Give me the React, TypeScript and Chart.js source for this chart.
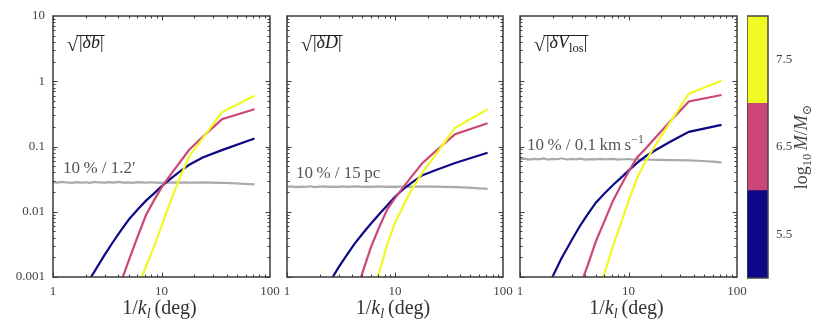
import React, { useEffect, useRef } from 'react';
import { Chart, registerables } from 'chart.js';
Chart.register(...registerables);

// ---------- data ----------
const MAIN_X = [1.8, 2.0, 2.4, 3.0, 3.6, 4.2, 5.0, 6.0, 7.2, 8.5, 10, 12, 14.4, 18, 24, 36, 72];
const GREY_X = [1, 1.1, 1.2, 1.35, 1.5, 1.65, 1.8, 2, 2.2, 2.4, 2.7, 3, 3.3, 3.6, 4, 4.5, 5, 5.5, 6, 6.6, 7.2, 8, 9, 10, 11, 12, 13.5, 15, 16.5, 18, 20, 24, 28, 36, 48, 60, 72];

const DB_NAVY = [0.00054, 0.00074, 0.0012, 0.0022, 0.0035, 0.0051, 0.0076, 0.0107, 0.0148, 0.019, 0.0245, 0.0316, 0.040, 0.0525, 0.068, 0.088, 0.133];
const DB_PINK = [null, null, null, null, null, 0.00081, 0.0018, 0.0041, 0.0089, 0.0148, 0.0234, 0.036, 0.054, 0.089, 0.141, 0.261, 0.372];
const DB_YELLOW = [null, null, null, null, null, null, null, 0.00069, 0.00145, 0.0029, 0.006, 0.0138, 0.030, 0.071, 0.134, 0.334, 0.60];
const DB_GREY = [0.0284, 0.0279, 0.0286, 0.0281, 0.0277, 0.0285, 0.0280, 0.0283, 0.0278, 0.0287, 0.0281, 0.0279, 0.0284, 0.0280, 0.0286, 0.0279, 0.0282, 0.0278, 0.0284, 0.0281, 0.0279, 0.0283, 0.0280, 0.0278, 0.0281, 0.0279, 0.0282, 0.0280, 0.0281, 0.0280, 0.0279, 0.0281, 0.0280, 0.0278, 0.0272, 0.0266, 0.0262];

const DD_NAVY = [null, null, 0.00076, 0.0014, 0.0022, 0.0032, 0.0046, 0.0066, 0.0093, 0.0126, 0.017, 0.0224, 0.0282, 0.0363, 0.0437, 0.056, 0.080];
const DD_PINK = [null, null, null, null, null, 0.00047, 0.00117, 0.0029, 0.006, 0.011, 0.0162, 0.024, 0.0355, 0.056, 0.086, 0.154, 0.227];
const DD_YELLOW = [null, null, null, null, null, null, null, 0.00045, 0.00123, 0.0032, 0.0068, 0.0126, 0.0224, 0.040, 0.076, 0.194, 0.372];
const DD_GREY = [0.0240, 0.0244, 0.0238, 0.0243, 0.0241, 0.0246, 0.0239, 0.0242, 0.0245, 0.0240, 0.0243, 0.0241, 0.0244, 0.0240, 0.0242, 0.0245, 0.0241, 0.0243, 0.0240, 0.0242, 0.0244, 0.0241, 0.0242, 0.0240, 0.0243, 0.0242, 0.0241, 0.0243, 0.0242, 0.0243, 0.0242, 0.0242, 0.0241, 0.0239, 0.0234, 0.0228, 0.0224];

const DV_NAVY = [0.00071, 0.00102, 0.0019, 0.0037, 0.0062, 0.0091, 0.0138, 0.019, 0.0257, 0.033, 0.0427, 0.056, 0.071, 0.089, 0.117, 0.168, 0.214];
const DV_PINK = [null, null, null, null, 0.00074, 0.0015, 0.0035, 0.0072, 0.0148, 0.025, 0.041, 0.068, 0.093, 0.141, 0.24, 0.49, 0.615];
const DV_YELLOW = [null, null, null, null, null, null, 0.0004, 0.00112, 0.003, 0.0066, 0.0145, 0.033, 0.060, 0.11, 0.23, 0.645, 1.02];
const DV_GREY = [0.0640, 0.0652, 0.0628, 0.0646, 0.0635, 0.0655, 0.0630, 0.0648, 0.0638, 0.0660, 0.0632, 0.0645, 0.0637, 0.0650, 0.0629, 0.0642, 0.0636, 0.0648, 0.0633, 0.0640, 0.0645, 0.0630, 0.0638, 0.0641, 0.0632, 0.0636, 0.0630, 0.0628, 0.0626, 0.0624, 0.0622, 0.0620, 0.0618, 0.0612, 0.0600, 0.0585, 0.0570];

const X_TICKS = [1, 10, 100];
const Y_TICKS = [0.001, 0.01, 0.1, 1, 10];
const CBAR_TICKS = [5.5, 6.5, 7.5];
const CBAR_BINS = [[5, 6], [6, 7], [7, 8]];

// ---------- style ----------
const NAVY = '#0d0887';
const PINK = '#cc4778';
const YELLOW = '#f0f921';
const GREY = '#aaaaaa';
const CBAR_COLORS = [NAVY, PINK, YELLOW];
const FONT = '"Liberation Serif", "DejaVu Serif", serif';
const INK = '#3a3a3a';

type Part = { t: string; it?: boolean; sub?: boolean; sup?: boolean };

function partFont(p: Part, size: number) {
  const s = p.sub || p.sup ? size * 0.7 : size;
  return `${p.it ? 'italic ' : ''}${s}px ${FONT}`;
}
function measureRich(ctx: CanvasRenderingContext2D, parts: Part[], size: number) {
  let w = 0;
  for (const p of parts) { ctx.font = partFont(p, size); w += ctx.measureText(p.t).width; }
  return w;
}
function drawRich(ctx: CanvasRenderingContext2D, parts: Part[], x: number, y: number, size: number) {
  let cx = x;
  ctx.textAlign = 'left';
  ctx.textBaseline = 'alphabetic';
  for (const p of parts) {
    ctx.font = partFont(p, size);
    const dy = p.sub ? size * 0.22 : p.sup ? -size * 0.4 : 0;
    ctx.fillText(p.t, cx, y + dy);
    cx += ctx.measureText(p.t).width;
  }
  return cx;
}

const pts = (xs: number[], ys: (number | null)[]) =>
  xs.map((x, i) => ({ x, y: ys[i] })).filter((p) => p.y !== null);

const ds = (xs: number[], ys: (number | null)[], color: string) => ({
  data: pts(xs, ys),
  borderColor: color,
  borderWidth: 2.2,
  pointRadius: 0,
  tension: 0,
  fill: false,
  clip: 0,
});

type Spec = {
  key: string;
  left: number;
  width: number;
  yLabels: boolean;
  navy: (number | null)[];
  pink: (number | null)[];
  yellow: (number | null)[];
  grey: number[];
  inner: Part[];
  note: Part[];
  noteDx: number;
};

const SPECS: Spec[] = [
  {
    key: 'b', left: 53, width: 217, yLabels: true,
    navy: DB_NAVY, pink: DB_PINK, yellow: DB_YELLOW, grey: DB_GREY,
    inner: [{ t: '|' }, { t: 'δb', it: true }, { t: '|' }],
    note: [{ t: '10\u2009% / 1.2\u2032' }], noteDx: 10,
  },
  {
    key: 'D', left: 287, width: 216, yLabels: false,
    navy: DD_NAVY, pink: DD_PINK, yellow: DD_YELLOW, grey: DD_GREY,
    inner: [{ t: '|' }, { t: 'δD', it: true }, { t: '|' }],
    note: [{ t: '10\u2009% / 15\u2009pc' }], noteDx: 9,
  },
  {
    key: 'V', left: 520, width: 217, yLabels: false,
    navy: DV_NAVY, pink: DV_PINK, yellow: DV_YELLOW, grey: DV_GREY,
    inner: [{ t: '|' }, { t: 'δV', it: true }, { t: 'los', sub: true }, { t: '|' }],
    note: [{ t: '10\u2009% / 0.1\u2009km\u2009s' }, { t: '\u22121', sup: true }], noteDx: 7,
  },
];

const Y_AXIS_W = 53;
const RIGHT_PAD = 30;

function decor(spec: Spec) {
  return {
    id: 'decor_' + spec.key,
    afterDraw(chart: any) {
      const ctx: CanvasRenderingContext2D = chart.ctx;
      const { left, right, top, bottom } = chart.chartArea;
      const xs = chart.scales.x;
      const ys = chart.scales.y;
      ctx.save();
      // ticks (inward, all four sides)
      ctx.strokeStyle = INK;
      ctx.lineWidth = 1;
      ctx.beginPath();
      for (const d of [1, 10]) {
        for (let m = 1; m <= 9; m++) {
          const px = Math.round(xs.getPixelForValue(m * d)) + 0.5;
          const len = m === 1 ? 4.5 : 2.5;
          ctx.moveTo(px, bottom); ctx.lineTo(px, bottom - len);
          ctx.moveTo(px, top); ctx.lineTo(px, top + len);
        }
      }
      for (const d of [0.001, 0.01, 0.1, 1]) {
        for (let m = 1; m <= 9; m++) {
          const py = Math.round(ys.getPixelForValue(m * d)) + 0.5;
          const len = m === 1 ? 4.5 : 2.5;
          ctx.moveTo(left, py); ctx.lineTo(left + len, py);
          ctx.moveTo(right, py); ctx.lineTo(right - len, py);
        }
      }
      ctx.stroke();
      // frame
      ctx.lineWidth = 1.5;
      ctx.strokeRect(left, top, right - left, bottom - top);

      // radical label (glyph stretched vertically like a TeX radical)
      ctx.fillStyle = '#222';
      const rx = left + 14;
      const rBottom = top + 36;
      const rHeight = 17;
      ctx.font = `20px ${FONT}`;
      ctx.textAlign = 'left';
      ctx.textBaseline = 'alphabetic';
      const rm = ctx.measureText('\u221A');
      const gh = (rm.actualBoundingBoxAscent + rm.actualBoundingBoxDescent) || 14;
      const sy = rHeight / gh;
      ctx.save();
      ctx.translate(rx, rBottom);
      ctx.scale(1, sy);
      ctx.fillText('\u221A', 0, -rm.actualBoundingBoxDescent);
      ctx.restore();
      const rTop = rBottom - rHeight;
      const innerStart = rx + rm.width + 1;
      const end = drawRich(ctx, spec.inner, innerStart, top + 32, 18);
      ctx.strokeStyle = '#222';
      ctx.lineWidth = 1;
      ctx.beginPath();
      ctx.moveTo(rx + rm.width - 1.5, rTop + 0.5);
      ctx.lineTo(end + 1, rTop + 0.5);
      ctx.stroke();

      // grey annotation
      ctx.fillStyle = '#555';
      const gy = ys.getPixelForValue(spec.grey[0]);
      drawRich(ctx, spec.note, left + spec.noteDx, gy - 9, 17);

      // x axis title
      ctx.fillStyle = '#333';
      const title: Part[] = [{ t: '1/' }, { t: 'k', it: true }, { t: 'l', it: true, sub: true }, { t: '\u2009(deg)' }];
      const tw = measureRich(ctx, title, 20);
      drawRich(ctx, title, (left + right) / 2 - tw / 2 - 2, 314, 20);
      ctx.restore();
    },
  };
}

function panelConfig(spec: Spec): any {
  const tickFont = { family: FONT, size: 13 };
  return {
    type: 'line',
    data: {
      datasets: [
        ds(MAIN_X, spec.yellow, YELLOW),
        ds(MAIN_X, spec.pink, PINK),
        ds(MAIN_X, spec.navy, NAVY),
        ds(GREY_X, spec.grey, GREY),
      ],
    },
    options: {
      animation: false,
      responsive: false,
      events: [],
      layout: { padding: { top: 16, right: RIGHT_PAD, left: 0, bottom: 0 } },
      plugins: { legend: { display: false }, tooltip: { enabled: false } },
      scales: {
        x: {
          type: 'logarithmic', min: 1, max: 100,
          afterBuildTicks: (ax: any) => { ax.ticks = X_TICKS.map((value) => ({ value })); },
          afterFit: (ax: any) => { ax.height = 44; },
          grid: { display: false, drawTicks: false },
          border: { display: false },
          ticks: { padding: 7, color: '#444', font: tickFont, maxRotation: 0, autoSkip: false, callback: (v: any) => String(v) },
        },
        y: {
          type: 'logarithmic', min: 0.001, max: 10,
          afterBuildTicks: (ax: any) => { ax.ticks = Y_TICKS.map((value) => ({ value })); },
          afterFit: (ax: any) => { ax.width = Y_AXIS_W; },
          grid: { display: false, drawTicks: false },
          border: { display: false },
          ticks: { display: spec.yLabels, padding: 8, color: '#444', font: tickFont, autoSkip: false, callback: (v: any) => String(v) },
        },
      },
    },
    plugins: [decor(spec)],
  };
}

function Panel({ spec }: { spec: Spec }) {
  const ref = useRef<HTMLCanvasElement>(null);
  const w = Y_AXIS_W + spec.width + RIGHT_PAD;
  useEffect(() => {
    const chart = new Chart(ref.current as HTMLCanvasElement, panelConfig(spec));
    return () => chart.destroy();
  }, [spec]);
  return (
    <canvas
      ref={ref}
      width={w}
      height={321}
      style={{ position: 'absolute', left: spec.left - Y_AXIS_W, top: 0, width: w, height: 321 }}
    />
  );
}

const CB_LEFT = 747;
const CB_W = 83;

const cbarDecor = {
  id: 'cbarDecor',
  afterDraw(chart: any) {
    const ctx: CanvasRenderingContext2D = chart.ctx;
    const { left, right, top, bottom } = chart.chartArea;
    ctx.save();
    ctx.strokeStyle = '#444';
    ctx.lineWidth = 1.5;
    ctx.strokeRect(left, top, right - left, bottom - top);
    ctx.fillStyle = '#444';
    const parts: Part[] = [
      { t: 'log' }, { t: '10', sub: true }, { t: '\u2009' },
      { t: 'M', it: true }, { t: '/' }, { t: 'M', it: true }, { t: '\u2299', sub: true },
    ];
    const w = measureRich(ctx, parts, 18);
    ctx.translate(60, (top + bottom) / 2);
    ctx.rotate(-Math.PI / 2);
    drawRich(ctx, parts, -w / 2, 0, 18);
    ctx.restore();
  },
};

function ColorBar() {
  const ref = useRef<HTMLCanvasElement>(null);
  useEffect(() => {
    const chart = new Chart(ref.current as HTMLCanvasElement, {
      type: 'bar',
      data: {
        labels: [''],
        datasets: CBAR_BINS.map((b, i) => ({
          data: [b as any],
          backgroundColor: CBAR_COLORS[i],
          borderWidth: 0,
          grouped: false,
          barPercentage: 1,
          categoryPercentage: 1,
        })),
      },
      options: {
        animation: false,
        responsive: false,
        events: [],
        layout: { padding: { top: 16, bottom: 43, left: 0, right: 0 } },
        plugins: { legend: { display: false }, tooltip: { enabled: false } },
        scales: {
          x: { display: false },
          y: {
            position: 'right', min: 5, max: 8,
            afterBuildTicks: (ax: any) => { ax.ticks = CBAR_TICKS.map((value) => ({ value })); },
            afterFit: (ax: any) => { ax.width = 62; },
            grid: { display: false, drawTicks: false },
            border: { display: false },
            ticks: { padding: 8, color: '#444', font: { family: FONT, size: 13 }, callback: (v: any) => Number(v).toFixed(1) },
          },
        },
      } as any,
      plugins: [cbarDecor],
    } as any);
    return () => chart.destroy();
  }, []);
  return (
    <canvas
      ref={ref}
      width={CB_W}
      height={321}
      style={{ position: 'absolute', left: CB_LEFT, top: 0, width: CB_W, height: 321 }}
    />
  );
}

export default function App() {
  return (
    <div style={{ position: 'fixed', left: 0, top: 0, width: 830, height: 321, background: '#fff', overflow: 'hidden' }}>
      {SPECS.map((s) => <Panel key={s.key} spec={s} />)}
      <ColorBar />
    </div>
  );
}
